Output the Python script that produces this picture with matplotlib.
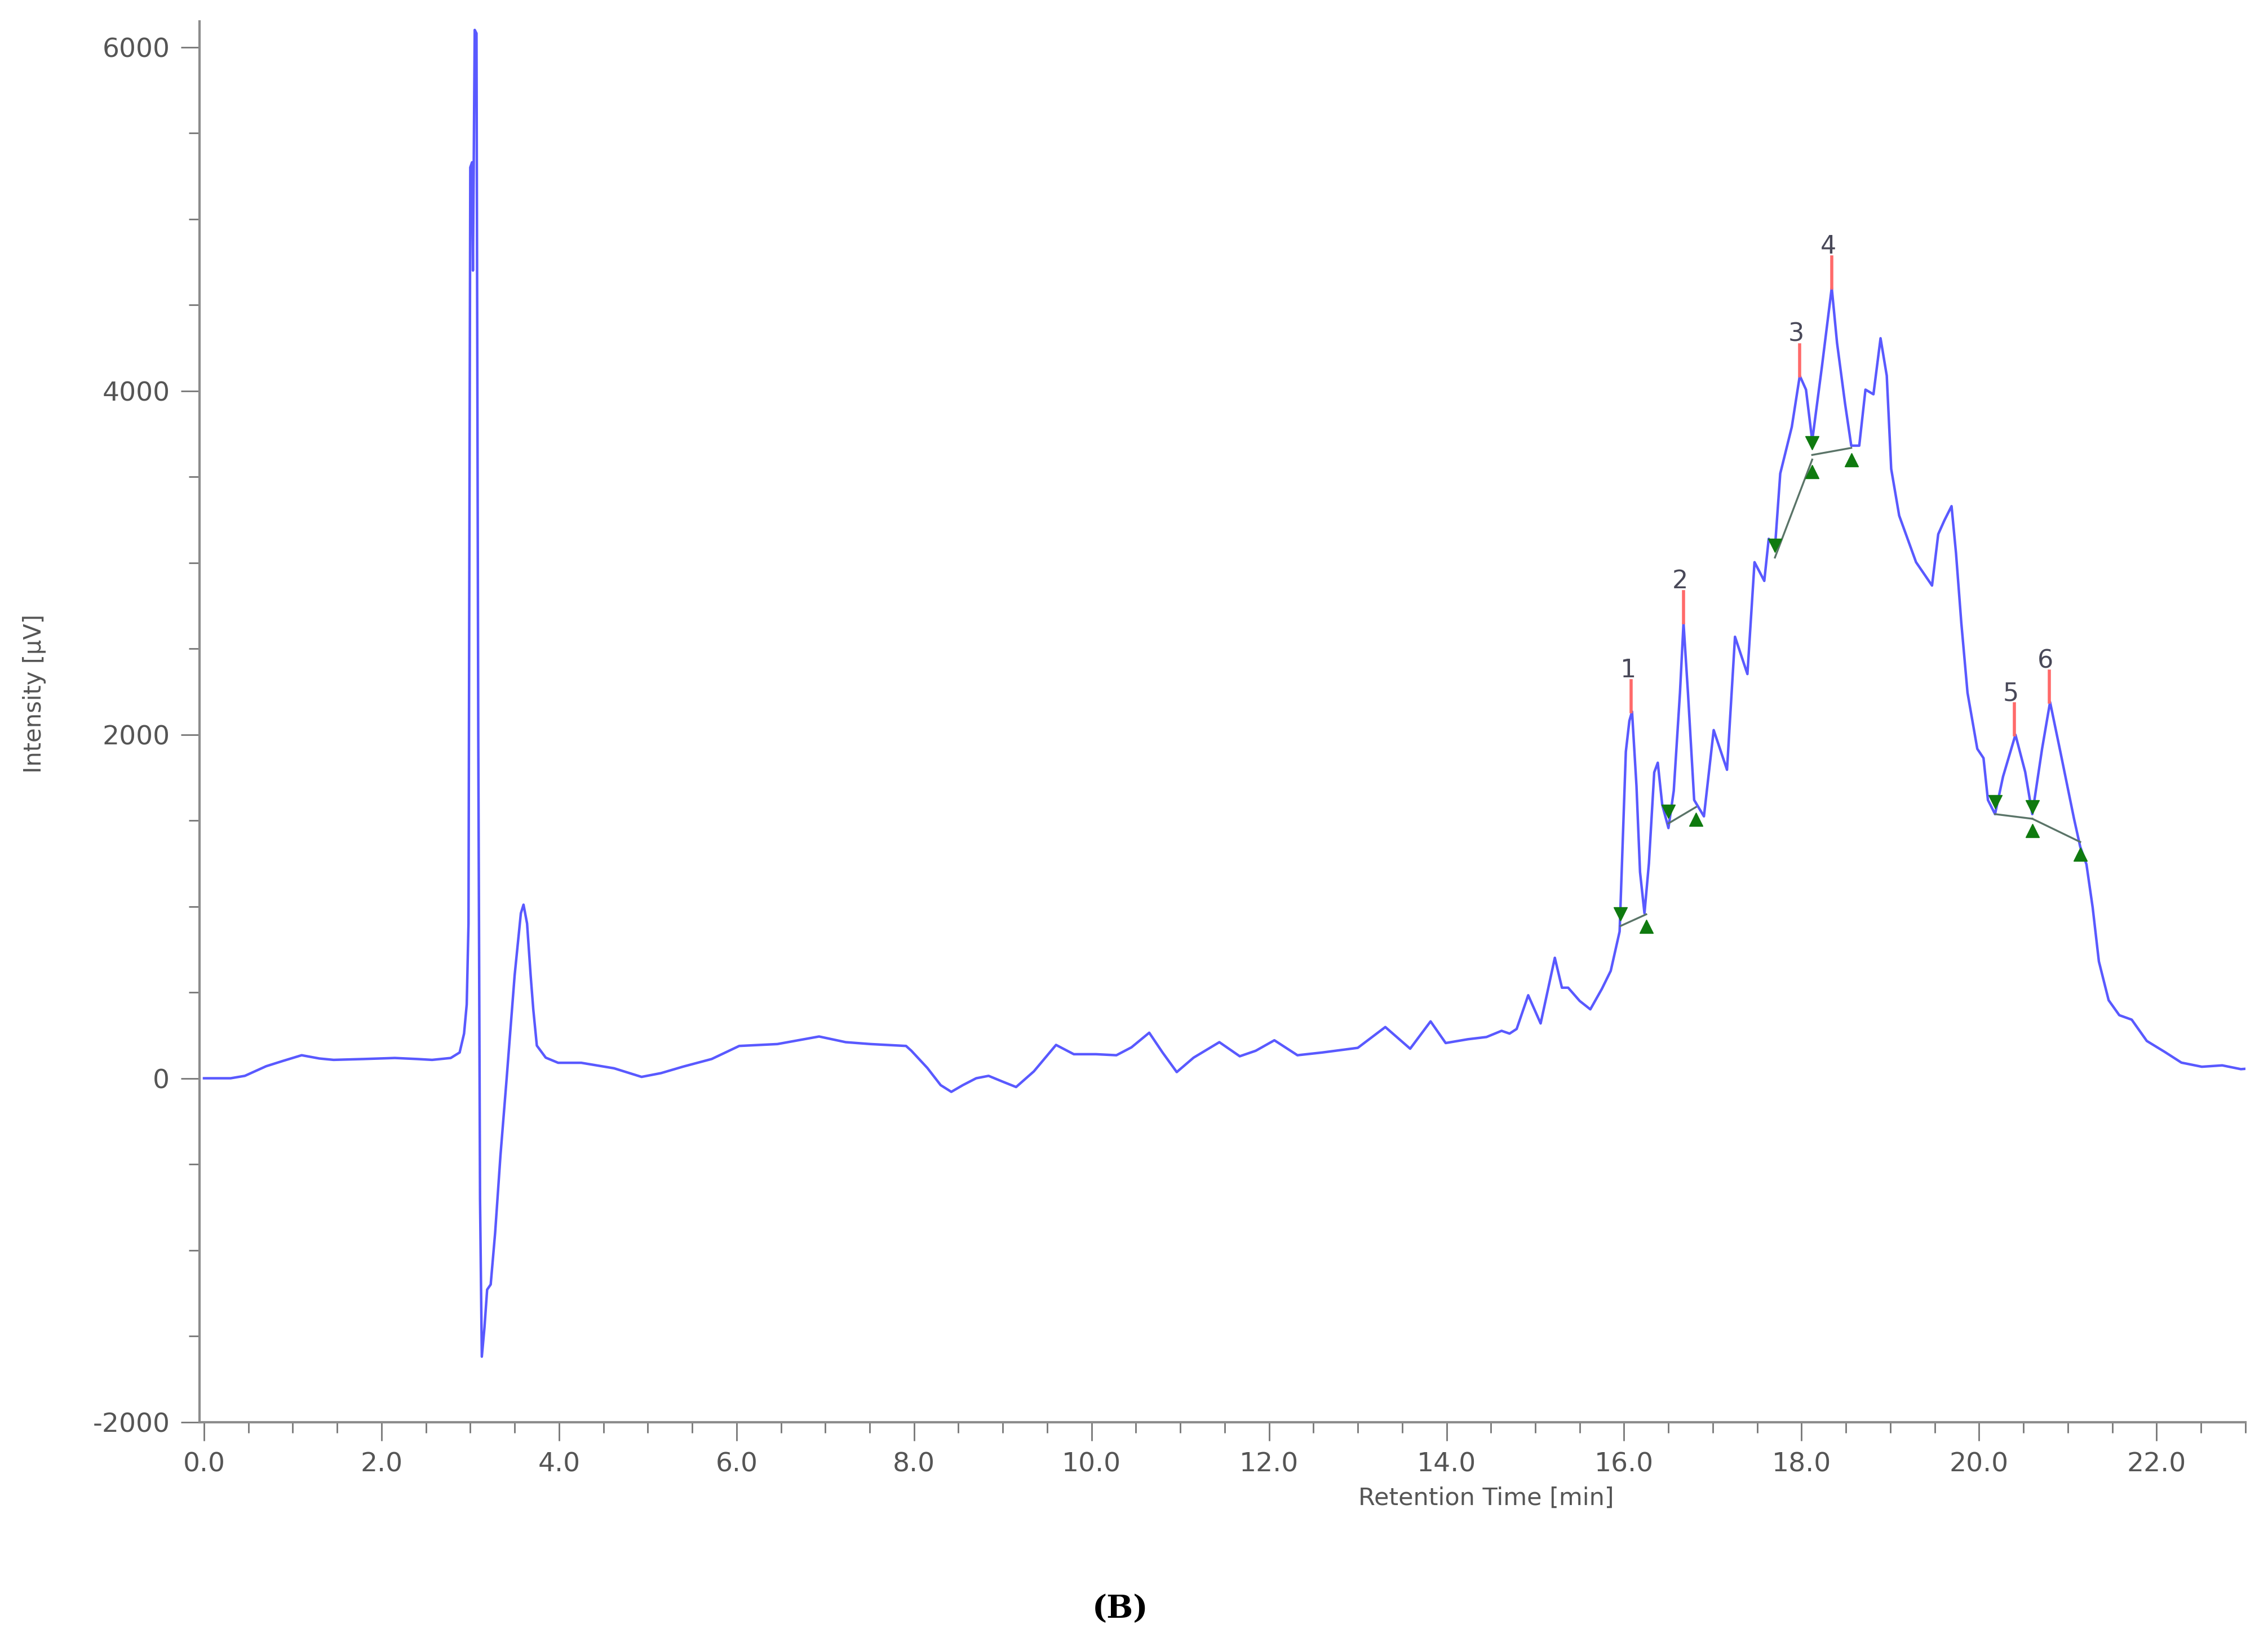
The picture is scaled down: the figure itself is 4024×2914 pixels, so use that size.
import matplotlib
matplotlib.use("Agg")
import matplotlib.pyplot as plt
from matplotlib.ticker import MultipleLocator
import numpy as np

plt.rcParams["axes.unicode_minus"] = False

# chromatogram trace (retention time in min, intensity in uV)
rt = [0.00, 0.30, 0.46, 0.70, 0.89, 1.10, 1.30, 1.46, 1.80, 2.15, 2.40, 2.57, 2.78, 2.88, 2.93, 2.96,
      2.98, 3.00, 3.02, 3.03, 3.05, 3.07, 3.09, 3.11, 3.13, 3.16, 3.19, 3.23, 3.28, 3.34, 3.41, 3.50,
      3.57, 3.60, 3.64, 3.68, 3.71, 3.75, 3.85, 3.99, 4.25, 4.62, 4.93, 5.15, 5.40, 5.72, 6.03, 6.46,
      6.93, 7.23, 7.51, 7.91, 7.97, 8.15, 8.30, 8.42, 8.55, 8.70, 8.84, 9.00, 9.15, 9.35, 9.60, 9.80,
      10.05, 10.28, 10.45, 10.65, 10.80, 10.96, 11.15, 11.44, 11.67, 11.85, 12.06, 12.32, 12.60, 13.00,
      13.31, 13.59, 13.82, 13.99, 14.24, 14.45, 14.62, 14.71, 14.79, 14.92, 15.06, 15.22, 15.30, 15.37,
      15.50, 15.62, 15.75, 15.85, 15.95, 15.98, 16.02, 16.06, 16.09, 16.14, 16.18, 16.23, 16.28, 16.34,
      16.38, 16.43, 16.50, 16.56, 16.63, 16.67, 16.72, 16.79, 16.90, 17.01, 17.16, 17.25, 17.39, 17.47,
      17.58, 17.63, 17.70, 17.76, 17.89, 17.98, 18.05, 18.12, 18.23, 18.34, 18.40, 18.49, 18.56, 18.65,
      18.72, 18.81, 18.89, 18.96, 19.01, 19.10, 19.29, 19.47, 19.54, 19.61, 19.69, 19.74, 19.80, 19.87,
      19.98, 20.05, 20.10, 20.18, 20.27, 20.41, 20.52, 20.60, 20.71, 20.80, 20.92, 21.07, 21.14, 21.21,
      21.28, 21.35, 21.46, 21.58, 21.72, 21.89, 22.09, 22.28, 22.51, 22.74, 22.95, 23.00]
intensity = [0, 0, 14, 70, 101, 134, 115, 107, 112, 118, 112, 107, 118, 150, 260, 430,
             900, 5300, 5330, 4700, 6100, 6080, 2000, -700, -1620, -1450, -1230, -1200, -900, -450, 0, 600,
             960, 1010, 900, 600, 400, 190, 120, 90, 90, 58, 8, 30, 68, 112, 188, 199,
             243, 210, 199, 188, 160, 60, -40, -79, -40, 0, 14, -20, -51, 40, 194, 140,
             140, 134, 180, 265, 150, 36, 120, 210, 128, 160, 221, 134, 150, 177,
             298, 172, 331, 205, 227, 240, 276, 260, 287, 483, 319, 701, 527, 527,
             450, 401, 520, 625, 854, 1300, 1900, 2080, 2134, 1700, 1200, 960, 1250, 1780,
             1836, 1592, 1456, 1673, 2243, 2650, 2243, 1619, 1524, 2026, 1795, 2569, 2352, 3003,
             2894, 3139, 3084, 3519, 3790, 4088, 4007, 3709, 4143, 4600, 4278, 3926, 3681, 3681,
             4007, 3980, 4306, 4088, 3546, 3274, 3003, 2867, 3166, 3247, 3329, 3057, 2650, 2243,
             1917, 1863, 1619, 1537, 1755, 1999, 1782, 1537, 1917, 2189, 1890, 1510, 1347, 1245,
             994, 680, 454, 367, 341, 217, 154, 91, 67, 75, 53, 55]

# integrated peaks
peak_labels = ["1", "2", "3", "4", "5", "6"]
peak_rt = [16.08, 16.67, 17.98, 18.34, 20.40, 20.79]
peak_top = [2134, 2650, 4088, 4600, 1999, 2189]

# baseline start / end of each peak
start_rt = [15.96, 16.50, 17.70, 18.12, 20.18, 20.60]
start_int = [886, 1483, 3030, 3627, 1537, 1510]
end_rt = [16.25, 16.81, 18.12, 18.56, 20.60, 21.14]
end_int = [954, 1578, 3600, 3668, 1510, 1375]

fig = plt.figure(figsize=(40.24, 29.14), dpi=100)
ax = fig.add_axes([0.088, 0.134, 0.902, 0.853])

ax.plot(rt, intensity, color="#3c3cff", lw=3.2, alpha=0.85, zorder=3)

# baselines and start/end markers
for i in range(len(peak_labels)):
    ax.plot([start_rt[i], end_rt[i]], [start_int[i], end_int[i]], color="#5a7468", lw=2.4, zorder=4)
ax.plot(start_rt, np.array(start_int) + 70, linestyle="none", marker="v", ms=17,
        color="#0f7a0f", zorder=5)
ax.plot(end_rt, np.array(end_int) - 70, linestyle="none", marker="^", ms=17,
        color="#0f7a0f", zorder=5)

# peak apex ticks and numbers
for lab, x, y in zip(peak_labels, peak_rt, peak_top):
    ax.plot([x, x], [y, y + 180], color="#ff6a6a", lw=4, zorder=4)
    ax.text(x - 0.04, y + 170, lab, fontsize=32, color="#484858", ha="center", va="bottom", zorder=6)

ax.set_xlim(-0.05, 23.0)
ax.set_ylim(-2000, 6150)
ax.set_xticks(np.arange(0, 23, 2.0))
ax.set_xticklabels([f"{v:.1f}" for v in np.arange(0, 23, 2.0)])
ax.set_yticks([-2000, 0, 2000, 4000, 6000])
ax.xaxis.set_minor_locator(MultipleLocator(0.5))
ax.yaxis.set_minor_locator(MultipleLocator(500))

for side in ["top", "right"]:
    ax.spines[side].set_visible(False)
for side in ["left", "bottom"]:
    ax.spines[side].set_color("#8c8c8c")
    ax.spines[side].set_linewidth(3)

ax.tick_params(axis="both", which="major", length=24, width=2, color="#777777",
               labelsize=34, labelcolor="#555555", pad=14)
ax.tick_params(axis="both", which="minor", length=14, width=2, color="#777777")

ax.set_xlabel("Retention Time [min]", fontsize=31, color="#555555")
ax.xaxis.set_label_coords(0.629, -0.046)
ax.set_ylabel("Intensity [µV]", fontsize=30, color="#555555")
ax.yaxis.set_label_coords(-0.075, 0.52)

fig.text(0.494, 0.020, "(B)", fontsize=40, fontweight="bold", family="DejaVu Serif",
         ha="center", va="center")

fig.savefig("out.png", dpi=100, facecolor="white")
